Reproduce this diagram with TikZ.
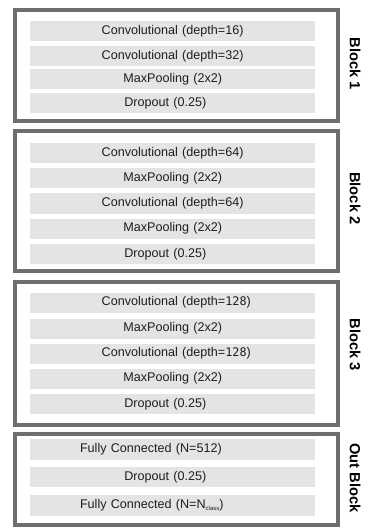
\documentclass[tikz,border=0pt]{standalone}
\usepackage{fontspec}
\setmainfont{Liberation Sans}
\newfontfamily\monof{DejaVu Sans Mono}
\definecolor{framegray}{HTML}{6E6E6E}
\definecolor{layergray}{HTML}{E4E4E4}
\definecolor{txt}{HTML}{1E1E1E}
\begin{document}
\begin{tikzpicture}[x=1pt,y=-1pt,
  outer/.style={draw=framegray,line width=4pt,fill=white,minimum width=323pt,inner sep=0pt},
  layer/.style={fill=layergray,text=txt,text width=285pt,inner xsep=0pt,inner ysep=0pt,
    align=left,minimum height=20pt,font=\fontsize{12.6}{14}\selectfont},
  blabel/.style={rotate=-90,font=\fontsize{14.7}{16}\selectfont\bfseries,text=black,inner sep=0pt}]
\useasboundingbox (0,0) rectangle (374,529);
\fill[white] (0,0) rectangle (374,529);
% outer blocks
\node[outer,minimum height=111pt] (b1) at (176.5,66) {};
\node[outer,minimum height=140pt] (b2) at (176.5,201) {};
\node[outer,minimum height=143pt] (b3) at (176.5,353.5) {};
\node[outer,minimum height=91.5pt] (b4) at (176.5,479.25) {};
% block 1
\node[layer] (c11) at (172.5,31.5) {\hspace*{71.7pt}Convolutional (depth=16)};
\node[layer] (c12) at (172.5,56) {\hspace*{71.7pt}Convolutional (depth=32)};
\node[layer] (m11) at (172.5,79.5) {\hspace*{93.3pt}MaxPooling (2x2)};
\node[layer] (d11) at (172.5,103) {\hspace*{94.3pt}Dropout (0.25)};
% block 2
\node[layer] (c21) at (172.5,153) {\hspace*{71.7pt}Convolutional (depth=64)};
\node[layer] (m21) at (172.5,178.5) {\hspace*{93.3pt}MaxPooling (2x2)};
\node[layer] (c22) at (172.5,203.5) {\hspace*{71.7pt}Convolutional (depth=64)};
\node[layer] (m22) at (172.5,228.5) {\hspace*{93.3pt}MaxPooling (2x2)};
\node[layer] (d21) at (172.5,254) {\hspace*{94.3pt}Dropout (0.25)};
% block 3
\node[layer] (c31) at (172.5,302.5) {\hspace*{71.7pt}Convolutional (depth={\monof\fontsize{11.8}{14}\selectfont 128})};
\node[layer] (m31) at (172.5,328.5) {\hspace*{93.3pt}MaxPooling (2x2)};
\node[layer] (c32) at (172.5,353.5) {\hspace*{71.7pt}Convolutional (depth={\monof\fontsize{11.8}{14}\selectfont 128})};
\node[layer] (m32) at (172.5,378.5) {\hspace*{93.3pt}MaxPooling (2x2)};
\node[layer] (d31) at (172.5,404) {\hspace*{94.3pt}Dropout (0.25)};
% out block
\node[layer,minimum height=21pt] (f41) at (172.5,449.5) {\hspace*{50pt}Fully Connected (N=512)};
\node[layer] (d41) at (172.5,477) {\hspace*{94.3pt}Dropout (0.25)};
\node[layer,minimum height=21pt] (f42) at (172.5,505.5) {\hspace*{50pt}Fully Connected (N=N\raisebox{-2.2pt}{\fontsize{6}{7}\selectfont class})};
% labels
\node[blabel] (l1) at (355,64) {Block 1};
\node[blabel] (l2) at (355,198.3) {Block 2};
\node[blabel] (l3) at (355,345) {Block 3};
\node[blabel] (l4) at (355,478) {Out Block};
\end{tikzpicture}
\end{document}
